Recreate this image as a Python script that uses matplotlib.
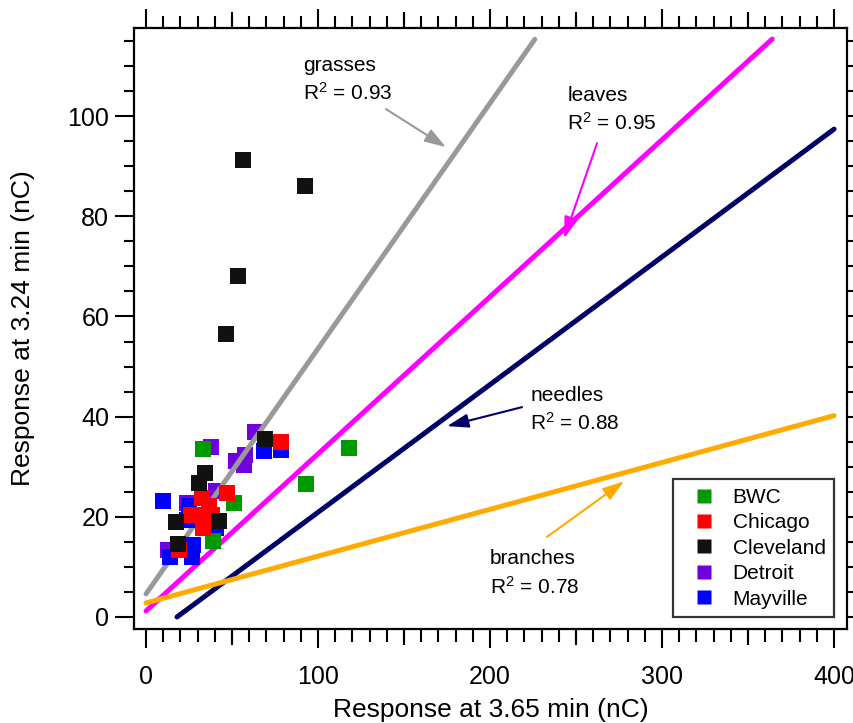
import matplotlib
matplotlib.use("Agg")
import numpy as np
import matplotlib.pyplot as plt
from matplotlib.ticker import MultipleLocator, NullFormatter
from matplotlib.lines import Line2D

plt.rcParams['font.family'] = ['Liberation Sans', 'DejaVu Sans']
plt.rcParams['mathtext.fontset'] = 'custom'
plt.rcParams['mathtext.rm'] = 'Liberation Sans'
plt.rcParams['mathtext.default'] = 'regular'

# ---- sample responses (nC) per site ----
sites = ["BWC", "Chicago", "Cleveland", "Detroit", "Mayville"]
site_colors = ["#009900", "#ff0000", "#111111", "#7000dc", "#0000ff"]
site_zorder = [5, 6, 7, 2, 4]

bwc_x = [33.0, 51.2, 39.1, 92.8, 118.0]
bwc_y = [33.5, 22.8, 15.2, 26.6, 33.7]

chicago_x = [78.3, 47.3, 32.4, 36.8, 26.0, 33.0, 38.2, 33.0, 19.4]
chicago_y = [35.0, 24.8, 23.7, 22.2, 20.4, 20.4, 20.4, 17.7, 13.4]

cleveland_x = [56.4, 92.4, 53.5, 46.5, 69.2, 34.3, 31.0, 42.4, 17.4, 18.8]
cleveland_y = [91.2, 86.0, 68.1, 56.5, 35.5, 28.7, 26.8, 19.2, 19.0, 14.6]

detroit_x = [63.4, 37.6, 57.6, 52.3, 57.0, 40.7, 23.7, 13.0]
detroit_y = [37.0, 34.0, 32.3, 31.2, 30.3, 25.1, 22.7, 13.4]

mayville_x = [68.6, 78.3, 9.7, 25.2, 23.7, 40.7, 27.5, 26.6, 14.0]
mayville_y = [33.1, 33.4, 23.2, 22.2, 19.4, 17.7, 14.4, 12.0, 12.0]

site_x = [bwc_x, chicago_x, cleveland_x, detroit_x, mayville_x]
site_y = [bwc_y, chicago_y, cleveland_y, detroit_y, mayville_y]

# ---- linear fits per vegetation type: y = slope * x + intercept ----
fit_names = ["grasses", "leaves", "needles", "branches"]
fit_r2 = ["0.93", "0.95", "0.88", "0.78"]
fit_slope = [0.490, 0.3137, 0.255, 0.0935]
fit_intercept = [4.6, 1.2, -4.59, 2.8]
fit_xmin = [0.0, 0.0, 18.0, 0.0]
fit_xmax = [226.0, 364.0, 400.0, 400.0]
fit_colors = ["#999999", "#ff00ff", "#000066", "#ffaa00"]

fig = plt.figure(figsize=(8.54, 7.23), dpi=100)
ax = fig.add_axes([0.1573, 0.130, 0.8345, 0.8313])

for name, m, b, x0, x1, c in zip(fit_names, fit_slope, fit_intercept,
                                  fit_xmin, fit_xmax, fit_colors):
    xs = np.array([x0, x1])
    ax.plot(xs, m * xs + b, color=c, lw=3.6, solid_capstyle='round',
            zorder=3, clip_on=False)

for name, xs, ys, c, z in zip(sites, site_x, site_y, site_colors, site_zorder):
    ax.scatter(xs, ys, s=133, marker='s', color=c, edgecolors='none',
               zorder=z, label=name)

# frame and ticks on all four sides, pointing outward
for sp in ax.spines.values():
    sp.set_linewidth(1.6)
ax.xaxis.set_major_locator(MultipleLocator(100))
ax.xaxis.set_minor_locator(MultipleLocator(10))
ax.yaxis.set_major_locator(MultipleLocator(20))
ax.yaxis.set_minor_locator(MultipleLocator(5))
ax.set_xlim(-6.8, 407.5)
ax.set_ylim(-2.4, 117.6)
ax.tick_params(axis='both', which='both', direction='out', top=True,
               right=True, labeltop=False, labelright=False, width=1.5,
               colors='black', labelsize=18)
ax.tick_params(axis='x', which='major', length=14, pad=12)
ax.tick_params(axis='x', which='minor', length=9)
ax.tick_params(axis='y', which='major', length=14, pad=4)
ax.tick_params(axis='y', which='minor', length=7)

# intermediate ticks at the half-hundreds
for loc in ('bottom', 'top'):
    sec = ax.secondary_xaxis(loc)
    sec.set_xticks([50, 150, 250, 350])
    sec.xaxis.set_major_formatter(NullFormatter())
    sec.tick_params(direction='out', length=11.5, width=1.5)
    for sp in sec.spines.values():
        sp.set_visible(False)

ax.set_xlabel("Response at 3.65 min (nC)", fontsize=19, va='center')
ax.set_ylabel("Response at 3.24 min (nC)", fontsize=19, va='center')
ax.xaxis.set_label_coords(0.5, -0.135)
ax.yaxis.set_label_coords(-0.156, 0.5)

# fit labels with arrows
label_pos = [(91.3, 110.2), (244.8, 104.2), (223.3, 44.3), (200.0, 11.6)]
arrow_tail = [(139.5, 101.4), (262.2, 94.6), (218.6, 41.9), (233.1, 16.0)]
arrow_head = [(174.4, 93.8), (243.0, 75.6), (175.0, 38.1), (277.9, 27.1)]
for name, r2, (tx, ty), tail, head, c in zip(fit_names, fit_r2, label_pos,
                                             arrow_tail, arrow_head, fit_colors):
    ax.text(tx, ty, name, fontsize=15, ha='left', va='center', zorder=8)
    ax.text(tx, ty - 5.6, "R$^{2}$ = " + r2, fontsize=15, ha='left',
            va='center', zorder=8)
    ax.annotate('', xy=head, xytext=tail, zorder=8,
                arrowprops=dict(arrowstyle='-|>,head_length=1.3,head_width=0.42',
                                color=c, lw=1.5, shrinkA=0, shrinkB=0))

handles = [Line2D([], [], marker='s', ls='none', markersize=9.4,
                  markerfacecolor=c, markeredgecolor='none')
           for c in site_colors]
leg = ax.legend(handles, sites, loc='lower right',
                bbox_to_anchor=(0.9818, 0.02), borderaxespad=0,
                fontsize=15, frameon=True, fancybox=False,
                handlelength=2.1, handletextpad=0.35, labelspacing=0.31,
                borderpad=0.4)
leg.get_frame().set_edgecolor('black')
leg.get_frame().set_linewidth(1.6)
leg.set_zorder(10)

fig.savefig("out.png", dpi=100)
